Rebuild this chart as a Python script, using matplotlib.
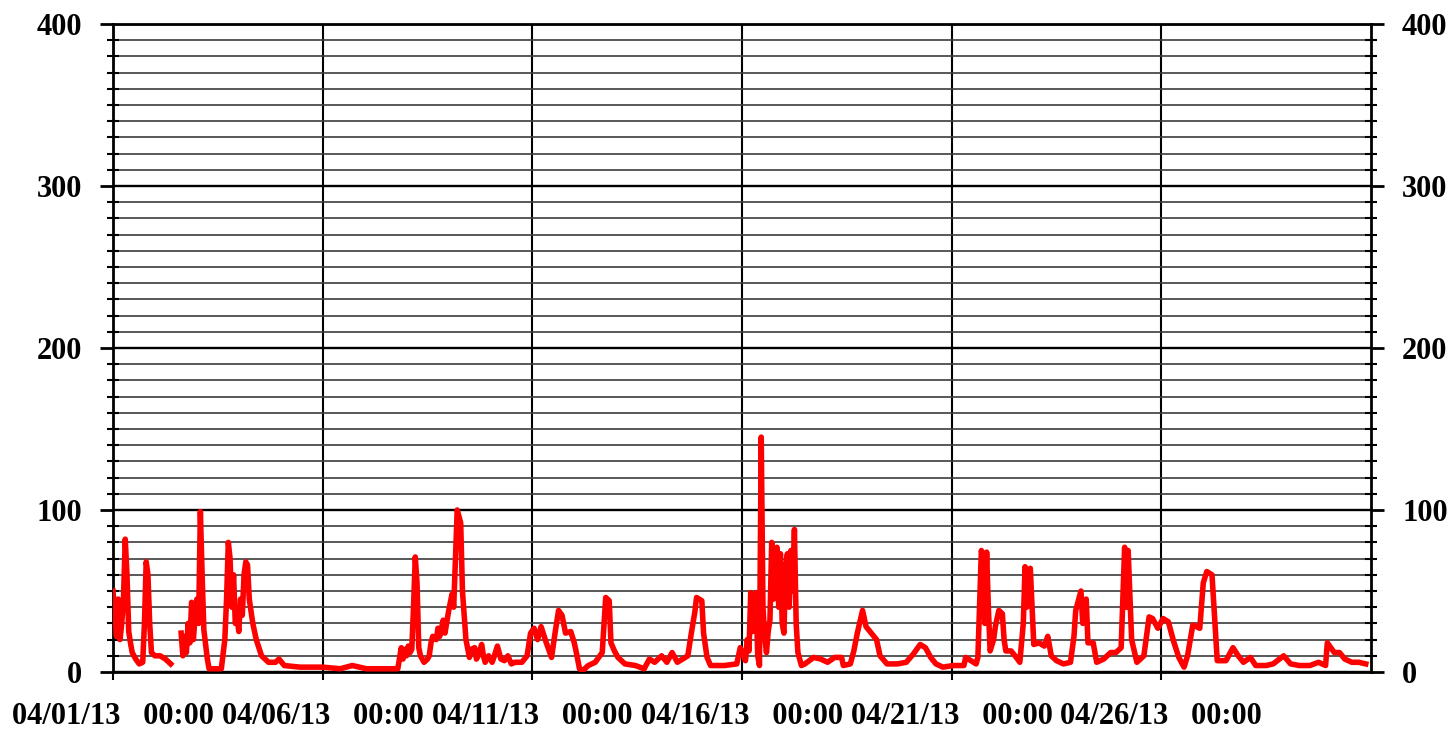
import numpy as np
import matplotlib
matplotlib.use("Agg")
import matplotlib.pyplot as plt
from matplotlib.ticker import MultipleLocator

nan = np.nan

# hours since 04/01/13 00:00 and readings
hours = [
    0, 1, 2, 3, 4, 5, 6, 7, 8, 9, 10, 11, 13, 15, 17, 18, 19, 20, 21, 22,
    24, 27, 30, 33, 35,
    39, 40, 41, 42, 43, 44, 45, 46, 47, 48, 49, 50, 51, 52, 54, 55, 58, 62,
    64, 65, 66, 67, 68, 69, 70, 71, 72, 73, 74, 75, 76, 77, 78, 80, 82, 85,
    89, 93, 95, 98, 107, 120,
    130, 137, 145, 155, 163, 165, 166, 167, 168, 169, 170, 171, 172, 173, 174,
    175, 176, 178, 180, 181, 182, 183, 185, 186, 187, 189, 190, 192, 194, 195,
    196, 197, 199, 200, 202, 204, 205, 207, 208, 209, 211, 212, 213, 215, 217,
    218, 220, 222, 224, 226, 228, 230, 234, 237, 239, 241,
    243, 245, 248, 251, 253, 255, 257, 259, 262, 264, 265, 267, 269, 272, 276,
    280, 282, 284, 285, 287, 289, 293, 299, 304, 307, 310, 314, 317, 320, 323,
    329, 331, 333, 334, 337, 338, 340, 342, 350, 357,
    359, 362, 363, 364, 365, 366, 367, 368, 369, 370, 371, 372, 373, 374, 375,
    376, 377, 378, 379, 380, 381, 382, 383, 384, 385, 386, 387, 388, 389, 390,
    391, 392, 394, 396, 401,
    405, 409, 413, 417, 418, 422, 424, 426, 429, 431, 434, 437, 439, 443, 449,
    454, 458, 462, 465, 468, 471, 475, 481,
    487, 488, 491, 494, 495, 497, 498, 499, 500, 501, 502, 504, 505, 507, 509,
    510, 511, 514, 517, 519, 521, 522, 523, 525, 527, 530, 533, 535, 537, 540,
    544, 548, 550, 551, 554, 555, 557, 558, 561, 563, 567, 571, 574, 577, 579,
    580, 581, 583, 586, 590, 593, 595, 598,
    601, 604, 607, 610, 613, 615, 618, 622, 624, 626, 629, 631, 632, 637, 641,
    644, 647, 651, 654, 660, 664, 670, 674, 679, 685, 690, 694, 695, 699, 702,
    705, 709, 713, 717,
]
values = [
    50, 36, 22, 45, 20, 30, 45, 82, 60, 25, 18, 12, 8, 5, 6, 30, 68, 60, 30, 12,
    10, 10, 8, 5, nan,
    24, 10, 22, 12, 30, 18, 43, 20, 35, 45, 30, 99, 60, 26, 8, 2, 2, 2,
    20, 45, 80, 70, 40, 60, 30, 34, 25, 45, 35, 60, 68, 66, 45, 30, 20, 10,
    6, 6, 8, 4, 3, 3,
    2, 4, 2, 2, 2, 15, 8, 14, 10, 16, 12, 14, 40, 71, 55,
    15, 10, 6, 8, 10, 18, 22, 20, 27, 22, 32, 24, 37, 48, 40,
    70, 100, 92, 50, 20, 9, 14, 15, 8, 10, 17, 10, 6, 10, 6,
    9, 16, 8, 7, 10, 5, 6, 6, 10, 24, 27,
    20, 28, 18, 9, 24, 38, 35, 24, 25, 18, 13, 2, 1, 4, 6,
    12, 46, 44, 18, 13, 9, 5, 4, 2, 8, 6, 10, 6, 12, 6,
    10, 24, 37, 46, 44, 24, 9, 4, 4, 5,
    15, 7, 20, 13, 49, 25, 40, 49, 10, 4, 145, 40, 22, 12, 25,
    32, 80, 45, 70, 77, 40, 73, 30, 24, 65, 73, 40, 75, 50, 88,
    30, 12, 4, 5, 9,
    8, 6, 9, 9, 4, 5, 13, 24, 38, 28, 24, 20, 10, 5, 5,
    6, 11, 17, 15, 9, 5, 3, 4,
    4, 9, 7, 5, 9, 75, 70, 30, 74, 40, 13, 20, 28, 38, 36,
    20, 13, 13, 9, 6, 30, 65, 40, 64, 17, 18, 16, 22, 10, 7,
    5, 6, 22, 38, 50, 30, 45, 18, 18, 6, 8, 12, 12, 15, 77,
    40, 75, 20, 6, 10, 34, 33, 27,
    33, 31, 19, 9, 3, 10, 29, 27, 55, 62, 60, 24, 7, 7, 15,
    10, 6, 9, 4, 4, 5, 10, 5, 4, 4, 6, 4, 18, 12, 12,
    8, 6, 6, 5,
]
assert len(hours) == len(values)

tick_hours = [0, 120, 240, 360, 480, 600]
tick_labels = ["04/01/13 00:00", "04/06/13 00:00", "04/11/13 00:00",
               "04/16/13 00:00", "04/21/13 00:00", "04/26/13 00:00"]
y_ticks = [0, 100, 200, 300, 400]

font = dict(family="Liberation Serif", weight="bold", size=22)

fig = plt.figure(figsize=(14.5, 7.3), dpi=100)
ax = fig.add_axes([113 / 1450, 1 - 672 / 730, (1371 - 113) / 1450, (672 - 24) / 730])

ax.plot(hours, values, color="#ff0000", lw=4.0, zorder=3)

ax.set_xlim(0, 720)
ax.set_ylim(0, 400)
ax.set_yticks(y_ticks)
ax.yaxis.set_minor_locator(MultipleLocator(10))
ax.set_xticks(tick_hours)
ax.set_xticklabels([l.replace(" ", "   ") for l in tick_labels], fontdict=font)
ax.set_yticklabels([str(v) for v in y_ticks], fontdict=font)

ax.grid(which="minor", axis="y", color="#3c3c3c", lw=1.2)
ax.grid(which="major", axis="y", color="black", lw=1.7)
ax.grid(which="major", axis="x", color="black", lw=1.5)
ax.set_axisbelow(True)

for s in ax.spines.values():
    s.set_linewidth(2)
    s.set_color("black")

ax.tick_params(axis="y", which="major", direction="out", length=9.4, width=2,
               left=True, right=True, labelleft=True, labelright=True, pad=13)
ax.tick_params(axis="y", which="minor", direction="inout", length=8.6, width=1.5,
               left=True, right=True)
ax.tick_params(axis="x", which="major", direction="out", length=5.8, width=1.5, pad=16)

fig.savefig("out.png", dpi=100, facecolor="white")
